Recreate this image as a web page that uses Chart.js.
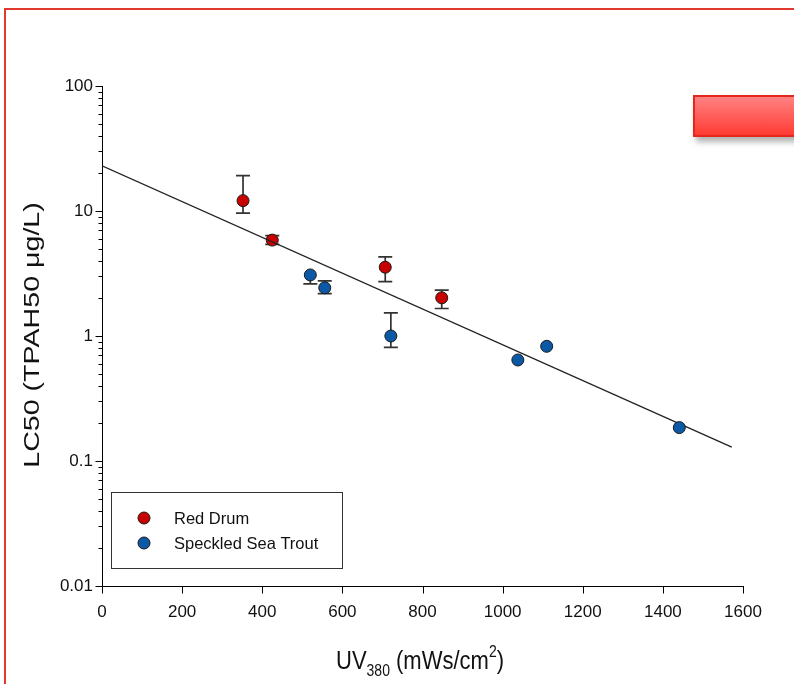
<!DOCTYPE html>
<html>
<head>
<meta charset="utf-8">
<script src="https://cdn.jsdelivr.net/npm/chart.js@4.4.1/dist/chart.umd.min.js"></script>
<style>
  html, body { margin: 0; padding: 0; background: #fff; overflow: hidden; }
  #wrap { position: relative; width: 794px; height: 684px; }
  #frame { position: absolute; left: 4px; top: 8px; width: 900px; height: 900px;
           border-left: 2px solid #e2382d; border-top: 2px solid #e2382d; }
  #btn { position: absolute; left: 693px; top: 95px; width: 140px; height: 38px;
         border: 2px solid #e3261e; background: linear-gradient(#ff8282, #ff3b33);
         box-shadow: 3px 5px 6px rgba(0,0,0,0.3); }
  canvas { position: absolute; left: 0; top: 0; }
</style>
</head>
<body>
<div id="wrap">
  <div id="frame"></div>
  <div id="btn"></div>
  <canvas id="chart" width="794" height="684"></canvas>
</div>
<script>
// data
const redX  = [352, 425, 707, 848];
const redY  = [12.1, 5.85, 3.55, 2.02];
const redLo = [9.6, 5.4, 2.72, 1.66];
const redHi = [19.2, 6.35, 4.3, 2.33];

const blueX  = [520, 556, 721, 1038, 1110, 1441];
const blueY  = [3.08, 2.43, 1.0, 0.643, 0.827, 0.185];
const blueLo = [2.61, 2.18, 0.81, null, null, null];
const blueHi = [null, 2.76, 1.53, null, null, null];

const fitX = [0, 1572];
const fitY = [23.0, 0.129];

const xTicks = [0, 200, 400, 600, 800, 1000, 1200, 1400, 1600];
const yTicks = [0.01, 0.1, 1, 10, 100];

const FONT = "'Liberation Sans', Arial, sans-serif";

// minor ticks 2..9 inside each decade
const yAll = [];
for (let i = 0; i < yTicks.length - 1; i++) {
  for (let k = 1; k <= 9; k++) yAll.push(k === 1 ? yTicks[i] : yTicks[i] * k);
}
yAll.push(yTicks[yTicks.length - 1]);

function pts(xs, ys) {
  return xs.map((x, i) => ({ x: x, y: ys[i] }));
}

const errorBars = {
  id: "errorBars",
  beforeDatasetsDraw(chart) {
    const { ctx, scales: { x, y } } = chart;
    const draw = (xs, ys, lo, hi) => {
      xs.forEach((xv, i) => {
        const px = x.getPixelForValue(xv);
        const py = y.getPixelForValue(ys[i]);
        [lo[i], hi[i]].forEach(v => {
          if (v == null) return;
          const pe = y.getPixelForValue(v);
          ctx.beginPath();
          ctx.moveTo(px, py);
          ctx.lineTo(px, pe);
          ctx.moveTo(px - 7, pe);
          ctx.lineTo(px + 7, pe);
          ctx.stroke();
        });
      });
    };
    ctx.save();
    ctx.strokeStyle = "#333";
    ctx.lineWidth = 1.7;
    draw(redX, redY, redLo, redHi);
    draw(blueX, blueY, blueLo, blueHi);
    ctx.restore();
  }
};

const decorations = {
  id: "decorations",
  afterDraw(chart) {
    const { ctx, scales: { x, y } } = chart;
    ctx.save();
    ctx.strokeStyle = "#000";
    ctx.lineWidth = 1;

    // tick marks
    const base = Math.round(y.bottom) + 0.5;
    x.ticks.forEach(t => {
      const px = Math.round(x.getPixelForValue(t.value)) + 0.5;
      ctx.beginPath(); ctx.moveTo(px, base); ctx.lineTo(px, base + 7); ctx.stroke();
    });
    const left = Math.round(x.left) + 0.5;
    y.ticks.forEach(t => {
      const py = Math.round(y.getPixelForValue(t.value)) + 0.5;
      const len = yTicks.includes(t.value) ? 7 : 4;
      ctx.beginPath(); ctx.moveTo(left, py); ctx.lineTo(left - len, py); ctx.stroke();
    });

    // y title
    ctx.fillStyle = "#111";
    ctx.save();
    ctx.translate(33, 335);
    ctx.rotate(-Math.PI / 2);
    ctx.scale(1.3, 1);
    ctx.font = "22px " + FONT;
    ctx.textAlign = "center";
    ctx.textBaseline = "middle";
    ctx.fillText("LC50 (TPAH50 \u03bcg/L)", 0, 0);
    ctx.restore();

    // x title with sub/superscript
    const parts = [
      { t: "UV", s: 22, dy: 0 },
      { t: "380", s: 14, dy: 6 },
      { t: " (mWs/cm", s: 22, dy: 0 },
      { t: "2", s: 14, dy: -10 },
      { t: ")", s: 22, dy: 0 }
    ];
    let w = 0;
    parts.forEach(p => { ctx.font = p.s + "px " + FONT; p.w = ctx.measureText(p.t).width; w += p.w; });
    ctx.save();
    ctx.translate(420 - w / 2, 669);
    ctx.scale(1, 1.18);
    ctx.textAlign = "left";
    ctx.textBaseline = "alphabetic";
    let cx = 0;
    parts.forEach(p => {
      ctx.font = p.s + "px " + FONT;
      ctx.fillText(p.t, cx, p.dy);
      cx += p.w;
    });
    ctx.restore();

    // legend box
    ctx.fillStyle = "#fff";
    ctx.strokeStyle = "#333";
    ctx.fillRect(111.5, 492.5, 231, 76);
    ctx.strokeRect(111.5, 492.5, 231, 76);
    const items = [chart.data.datasets[0], chart.data.datasets[2]];
    items.forEach((ds, i) => {
      const ly = 518 + i * 25;
      ctx.beginPath();
      ctx.arc(144, ly, 6, 0, Math.PI * 2);
      ctx.fillStyle = ds.backgroundColor;
      ctx.fill();
      ctx.strokeStyle = "#1a1a1a";
      ctx.stroke();
      ctx.fillStyle = "#111";
      ctx.font = "16.5px " + FONT;
      ctx.textAlign = "left";
      ctx.textBaseline = "middle";
      ctx.fillText(ds.label, 174, ly + 1);
    });
    ctx.restore();
  }
};

new Chart(document.getElementById("chart"), {
  type: "scatter",
  data: {
    datasets: [
      {
        label: "Red Drum",
        data: pts(redX, redY),
        backgroundColor: "#c80000",
        borderColor: "#1a1a1a",
        borderWidth: 1,
        pointRadius: 6,
        order: 3
      },
      {
        label: "fit",
        data: pts(fitX, fitY),
        showLine: true,
        borderColor: "#222",
        borderWidth: 1.3,
        pointRadius: 0,
        fill: false,
        order: 2
      },
      {
        label: "Speckled Sea Trout",
        data: pts(blueX, blueY),
        backgroundColor: "#0b58a6",
        borderColor: "#1a1a1a",
        borderWidth: 1,
        pointRadius: 6,
        order: 1
      }
    ]
  },
  options: {
    responsive: false,
    animation: false,
    events: [],
    layout: { padding: { left: 0, top: 86, right: 51, bottom: 0 } },
    plugins: { legend: { display: false }, tooltip: { enabled: false } },
    scales: {
      x: {
        type: "linear",
        min: 0,
        max: 1600,
        afterBuildTicks: s => { s.ticks = xTicks.map(v => ({ value: v })); },
        afterFit: s => { s.height = 98; },
        ticks: {
          font: { family: FONT, size: 17 },
          color: "#111",
          padding: 16,
          maxRotation: 0,
          autoSkip: false,
          callback: v => String(v)
        },
        grid: { display: true, drawOnChartArea: false, drawTicks: false },
        border: { display: true, color: "#000", width: 1 }
      },
      y: {
        type: "logarithmic",
        min: 0.01,
        max: 100,
        afterBuildTicks: s => { s.ticks = yAll.map(v => ({ value: v })); },
        afterFit: s => { s.width = 102; },
        ticks: {
          font: { family: FONT, size: 17 },
          color: "#111",
          padding: 9,
          autoSkip: false,
          callback: v => yTicks.includes(v) ? String(v) : ""
        },
        grid: { display: true, drawOnChartArea: false, drawTicks: false },
        border: { display: true, color: "#000", width: 1 }
      }
    }
  },
  plugins: [errorBars, decorations]
});
</script>
</body>
</html>
